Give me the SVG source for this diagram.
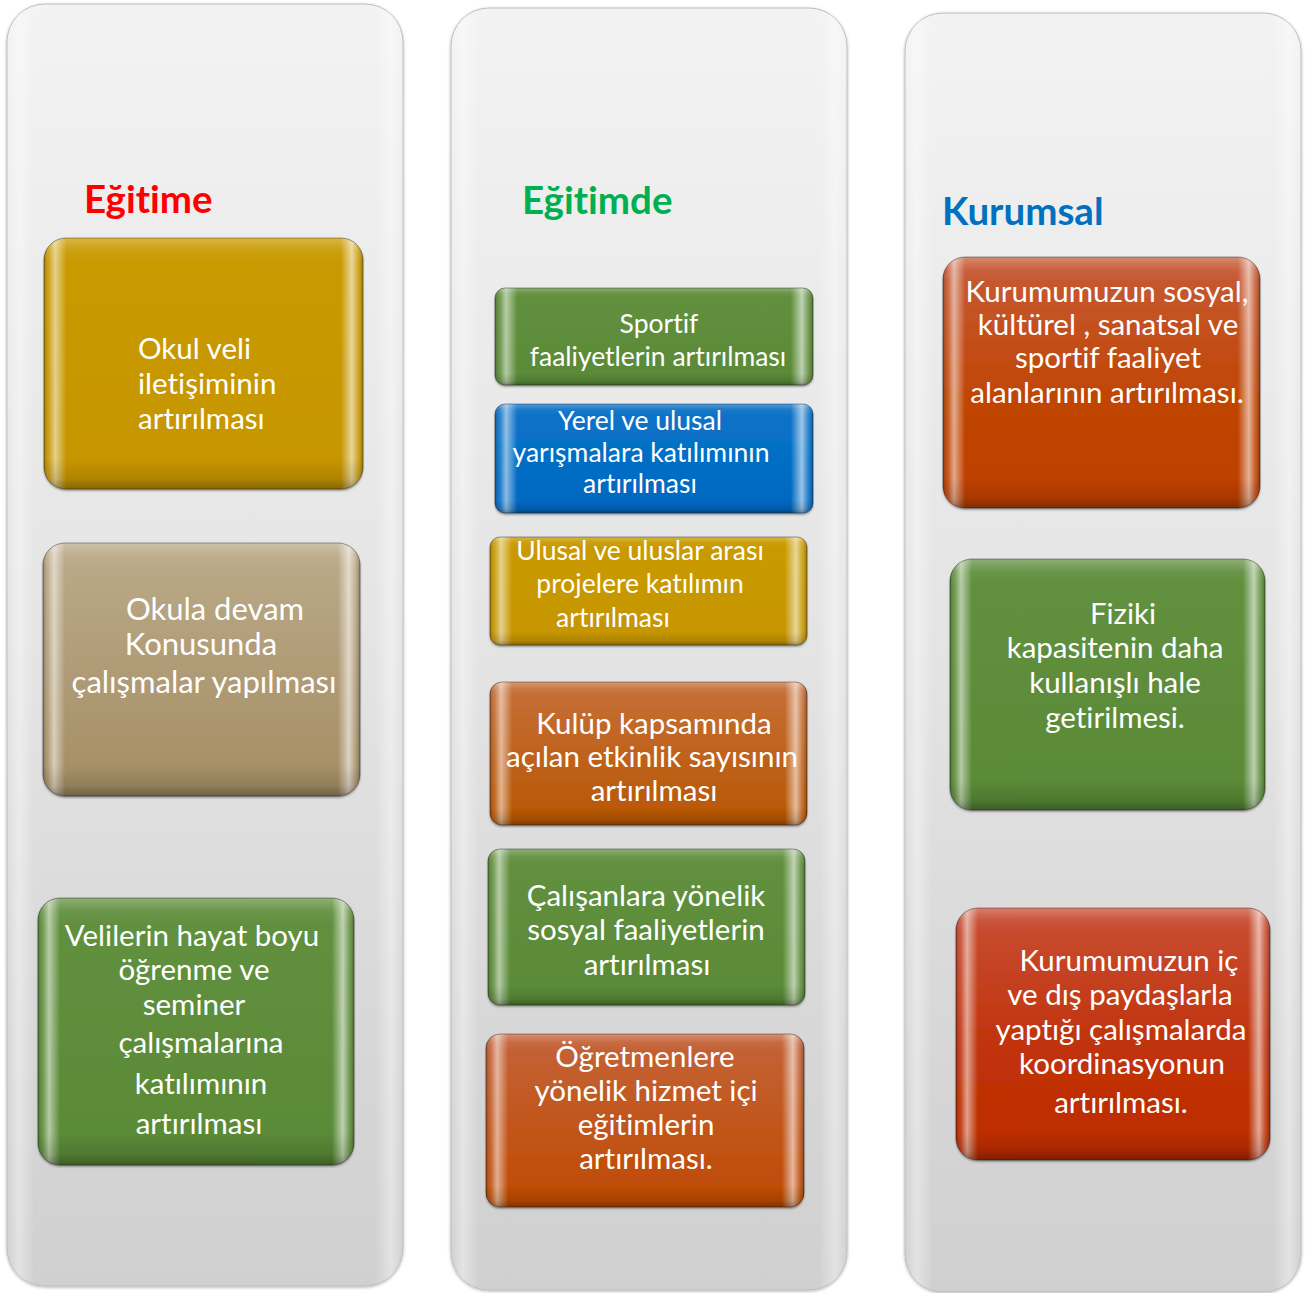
<svg xmlns="http://www.w3.org/2000/svg" width="1305" height="1293" viewBox="0 0 1305 1293">
  <defs>
    <!-- tall gray column background -->
    <linearGradient id="panelFill" x1="0" y1="0" x2="0" y2="1">
      <stop offset="0" stop-color="#f3f3f3"/>
      <stop offset="0.15" stop-color="#eeeeee"/>
      <stop offset="0.5" stop-color="#e4e4e4"/>
      <stop offset="0.85" stop-color="#d5d5d5"/>
      <stop offset="1" stop-color="#d0d0d0"/>
    </linearGradient>
    <linearGradient id="panelEdge" x1="0" y1="0" x2="1" y2="0">
      <stop offset="0" stop-color="#ffffff" stop-opacity="0.0"/>
      <stop offset="0.03" stop-color="#ffffff" stop-opacity="0.4"/>
      <stop offset="0.07" stop-color="#ffffff" stop-opacity="0"/>
      <stop offset="0.93" stop-color="#ffffff" stop-opacity="0"/>
      <stop offset="0.97" stop-color="#ffffff" stop-opacity="0.4"/>
      <stop offset="1" stop-color="#ffffff" stop-opacity="0"/>
    </linearGradient>

    <!-- box body colours -->
    <linearGradient id="gGold" x1="0" y1="0" x2="0" y2="1">
      <stop offset="0" stop-color="#c99a04"/>
      <stop offset="1" stop-color="#c69500"/>
    </linearGradient>
    <linearGradient id="gTan" x1="0" y1="0" x2="0" y2="1">
      <stop offset="0" stop-color="#bcaa89"/>
      <stop offset="1" stop-color="#a38d63"/>
    </linearGradient>
    <linearGradient id="gGreen" x1="0" y1="0" x2="0" y2="1">
      <stop offset="0" stop-color="#62903f"/>
      <stop offset="1" stop-color="#598a36"/>
    </linearGradient>
    <linearGradient id="gBlue" x1="0" y1="0" x2="0" y2="1">
      <stop offset="0" stop-color="#0a74c8"/>
      <stop offset="1" stop-color="#0068c2"/>
    </linearGradient>
    <linearGradient id="gOrange" x1="0" y1="0" x2="0" y2="1">
      <stop offset="0" stop-color="#c6703a"/>
      <stop offset="1" stop-color="#b85600"/>
    </linearGradient>
    <linearGradient id="gOrange2" x1="0" y1="0" x2="0" y2="1">
      <stop offset="0" stop-color="#c46339"/>
      <stop offset="1" stop-color="#bf4a00"/>
    </linearGradient>
    <linearGradient id="gRust" x1="0" y1="0" x2="0" y2="1">
      <stop offset="0" stop-color="#c75b38"/>
      <stop offset="0.6" stop-color="#c04400"/>
      <stop offset="1" stop-color="#bf4000"/>
    </linearGradient>
    <linearGradient id="gRed" x1="0" y1="0" x2="0" y2="1">
      <stop offset="0" stop-color="#c84e34"/>
      <stop offset="0.6" stop-color="#c03108"/>
      <stop offset="1" stop-color="#be2c00"/>
    </linearGradient>

    <!-- bevel light on the left / right rims -->
    <linearGradient id="rimX" x1="0" y1="0" x2="1" y2="0">
      <stop offset="0" stop-color="#000000" stop-opacity="0.22"/>
      <stop offset="0.015" stop-color="#ffffff" stop-opacity="0.1"/>
      <stop offset="0.035" stop-color="#ffffff" stop-opacity="0.55"/>
      <stop offset="0.07" stop-color="#ffffff" stop-opacity="0"/>
      <stop offset="0.93" stop-color="#ffffff" stop-opacity="0"/>
      <stop offset="0.965" stop-color="#ffffff" stop-opacity="0.6"/>
      <stop offset="0.985" stop-color="#ffffff" stop-opacity="0.15"/>
      <stop offset="1" stop-color="#000000" stop-opacity="0.22"/>
    </linearGradient>
    <!-- bevel top light and bottom shade -->
    <linearGradient id="rimY" x1="0" y1="0" x2="0" y2="1">
      <stop offset="0" stop-color="#ffffff" stop-opacity="0.28"/>
      <stop offset="0.05" stop-color="#ffffff" stop-opacity="0.06"/>
      <stop offset="0.1" stop-color="#ffffff" stop-opacity="0"/>
      <stop offset="0.88" stop-color="#000000" stop-opacity="0"/>
      <stop offset="0.96" stop-color="#000000" stop-opacity="0.12"/>
      <stop offset="1" stop-color="#000000" stop-opacity="0.32"/>
    </linearGradient>

    <filter id="boxShadow" x="-5%" y="-5%" width="110%" height="112%">
      <feDropShadow dx="0" dy="1.5" stdDeviation="1.2" flood-color="#000000" flood-opacity="0.45"/>
    </filter>
    <filter id="panelShadow" x="-3%" y="-2%" width="106%" height="104%">
      <feDropShadow dx="0" dy="1" stdDeviation="1.5" flood-color="#000000" flood-opacity="0.3"/>
    </filter>

    <style>
      .panel { fill: url(#panelFill); stroke: #bdbdbd; stroke-width: 1; }
      .panelRim { fill: url(#panelEdge); }
      .rimX { fill: url(#rimX); }
      .rimY { fill: url(#rimY); }
      .edge { fill: none; stroke: #000000; stroke-opacity: 0.35; stroke-width: 1; }
      text { font-variant-ligatures: none; font-feature-settings: "liga" 0, "clig" 0; }
      .head { font-family: Lato, "Liberation Sans", sans-serif; font-weight: 700; font-size: 38.5px; }
      .lbl { font-family: Lato, "Liberation Sans", sans-serif; fill: #ffffff; font-size: 29.5px; text-anchor: middle; }
      .sm { font-size: 26.5px; }
      .lg { font-size: 31px; }
    </style>
  </defs>

  <rect width="1305" height="1293" fill="#ffffff"/>

  <!-- three column backgrounds -->
  <g id="columns">
    <g id="column-egitime" filter="url(#panelShadow)">
      <rect class="panel" x="7" y="4" width="396" height="1282" rx="38"/>
      <rect class="panelRim" x="7" y="4" width="396" height="1282" rx="38"/>
    </g>
    <g id="column-egitimde" filter="url(#panelShadow)">
      <rect class="panel" x="451" y="8" width="396" height="1282" rx="38"/>
      <rect class="panelRim" x="451" y="8" width="396" height="1282" rx="38"/>
    </g>
    <g id="column-kurumsal" filter="url(#panelShadow)">
      <rect class="panel" x="905" y="13" width="396" height="1279" rx="38"/>
      <rect class="panelRim" x="905" y="13" width="396" height="1279" rx="38"/>
    </g>
  </g>

  <!-- column titles -->
  <g id="titles">
    <text id="title-egitime" class="head" x="84" y="213" fill="#ff0000">Eğitime</text>
    <text id="title-egitimde" class="head" x="522" y="214" fill="#00b050">Eğitimde</text>
    <text id="title-kurumsal" class="head" x="942" y="225" fill="#0070c0">Kurumsal</text>
  </g>

  <!-- no connectors in this layout -->
  <g id="connectors"/>

  <!-- first column -->
  <g id="box-okul-veli">
    <rect x="44" y="238" width="319" height="251" rx="22" fill="url(#gGold)" filter="url(#boxShadow)"/>
    <rect class="rimX" x="44" y="238" width="319" height="251" rx="22"/>
    <rect class="rimY" x="44" y="238" width="319" height="251" rx="22"/>
    <rect class="edge" x="44" y="238" width="319" height="251" rx="22"/>
    <text class="lbl" style="text-anchor:start" x="138" y="359">Okul veli</text>
    <text class="lbl" style="text-anchor:start" x="138" y="394">iletişiminin</text>
    <text class="lbl" style="text-anchor:start" x="138" y="429">artırılması</text>
  </g>

  <g id="box-okula-devam">
    <rect x="43" y="543" width="317" height="253" rx="22" fill="url(#gTan)" filter="url(#boxShadow)"/>
    <rect class="rimX" x="43" y="543" width="317" height="253" rx="22"/>
    <rect class="rimY" x="43" y="543" width="317" height="253" rx="22"/>
    <rect class="edge" x="43" y="543" width="317" height="253" rx="22"/>
    <text class="lbl lg" x="215" y="620">Okula devam</text>
    <text class="lbl lg" x="201" y="655">Konusunda</text>
    <text class="lbl lg" x="204" y="693">çalışmalar yapılması</text>
  </g>

  <g id="box-veliler">
    <rect x="38" y="898" width="316" height="267" rx="22" fill="url(#gGreen)" filter="url(#boxShadow)"/>
    <rect class="rimX" x="38" y="898" width="316" height="267" rx="22"/>
    <rect class="rimY" x="38" y="898" width="316" height="267" rx="22"/>
    <rect class="edge" x="38" y="898" width="316" height="267" rx="22"/>
    <text class="lbl" x="192" y="946">Velilerin hayat boyu</text>
    <text class="lbl" x="194" y="980">öğrenme ve</text>
    <text class="lbl" x="194" y="1015">seminer</text>
    <text class="lbl" x="201" y="1053">çalışmalarına</text>
    <text class="lbl" x="201" y="1094">katılımının</text>
    <text class="lbl" x="199" y="1134">artırılması</text>
  </g>

  <!-- second column -->
  <g id="box-sportif">
    <rect x="495" y="288" width="318" height="97" rx="10" fill="url(#gGreen)" filter="url(#boxShadow)"/>
    <rect class="rimX" x="495" y="288" width="318" height="97" rx="10"/>
    <rect class="rimY" x="495" y="288" width="318" height="97" rx="10"/>
    <rect class="edge" x="495" y="288" width="318" height="97" rx="10"/>
    <text class="lbl sm" x="659" y="333">Sportif</text>
    <text class="lbl sm" x="658" y="366">faaliyetlerin artırılması</text>
  </g>

  <g id="box-yarismalar">
    <rect x="495" y="404" width="318" height="109" rx="10" fill="url(#gBlue)" filter="url(#boxShadow)"/>
    <rect class="rimX" x="495" y="404" width="318" height="109" rx="10"/>
    <rect class="rimY" x="495" y="404" width="318" height="109" rx="10"/>
    <rect class="edge" x="495" y="404" width="318" height="109" rx="10"/>
    <text class="lbl sm" x="640" y="430">Yerel ve ulusal</text>
    <text class="lbl sm" x="641" y="462">yarışmalara katılımının</text>
    <text class="lbl sm" x="640" y="493">artırılması</text>
  </g>

  <g id="box-projeler">
    <rect x="490" y="537" width="317" height="108" rx="10" fill="url(#gGold)" filter="url(#boxShadow)"/>
    <rect class="rimX" x="490" y="537" width="317" height="108" rx="10"/>
    <rect class="rimY" x="490" y="537" width="317" height="108" rx="10"/>
    <rect class="edge" x="490" y="537" width="317" height="108" rx="10"/>
    <text class="lbl sm" x="640" y="560">Ulusal ve uluslar arası</text>
    <text class="lbl sm" x="640" y="593">projelere katılımın</text>
    <text class="lbl sm" x="613" y="627">artırılması</text>
  </g>

  <g id="box-kulup">
    <rect x="490" y="682" width="317" height="143" rx="12" fill="url(#gOrange)" filter="url(#boxShadow)"/>
    <rect class="rimX" x="490" y="682" width="317" height="143" rx="12"/>
    <rect class="rimY" x="490" y="682" width="317" height="143" rx="12"/>
    <rect class="edge" x="490" y="682" width="317" height="143" rx="12"/>
    <text class="lbl" x="654" y="734">Kulüp kapsamında</text>
    <text class="lbl" x="652" y="767">açılan etkinlik sayısının</text>
    <text class="lbl" x="654" y="801">artırılması</text>
  </g>

  <g id="box-calisanlar">
    <rect x="488" y="849" width="317" height="156" rx="12" fill="url(#gGreen)" filter="url(#boxShadow)"/>
    <rect class="rimX" x="488" y="849" width="317" height="156" rx="12"/>
    <rect class="rimY" x="488" y="849" width="317" height="156" rx="12"/>
    <rect class="edge" x="488" y="849" width="317" height="156" rx="12"/>
    <text class="lbl" x="646" y="906">Çalışanlara yönelik</text>
    <text class="lbl" x="646" y="940">sosyal faaliyetlerin</text>
    <text class="lbl" x="647" y="975">artırılması</text>
  </g>

  <g id="box-ogretmenler">
    <rect x="486" y="1034" width="318" height="173" rx="14" fill="url(#gOrange2)" filter="url(#boxShadow)"/>
    <rect class="rimX" x="486" y="1034" width="318" height="173" rx="14"/>
    <rect class="rimY" x="486" y="1034" width="318" height="173" rx="14"/>
    <rect class="edge" x="486" y="1034" width="318" height="173" rx="14"/>
    <text class="lbl" x="645" y="1067">Öğretmenlere</text>
    <text class="lbl" x="646" y="1101">yönelik hizmet içi</text>
    <text class="lbl" x="646" y="1135">eğitimlerin</text>
    <text class="lbl" x="646" y="1169">artırılması.</text>
  </g>

  <!-- third column -->
  <g id="box-faaliyet-alanlari">
    <rect x="943" y="257" width="317" height="251" rx="22" fill="url(#gRust)" filter="url(#boxShadow)"/>
    <rect class="rimX" x="943" y="257" width="317" height="251" rx="22"/>
    <rect class="rimY" x="943" y="257" width="317" height="251" rx="22"/>
    <rect class="edge" x="943" y="257" width="317" height="251" rx="22"/>
    <text class="lbl" x="1107" y="302">Kurumumuzun sosyal,</text>
    <text class="lbl" x="1108" y="335">kültürel , sanatsal ve</text>
    <text class="lbl" x="1108" y="368">sportif faaliyet</text>
    <text class="lbl" x="1107" y="403">alanlarının artırılması.</text>
  </g>

  <g id="box-fiziki">
    <rect x="950" y="559" width="315" height="251" rx="22" fill="url(#gGreen)" filter="url(#boxShadow)"/>
    <rect class="rimX" x="950" y="559" width="315" height="251" rx="22"/>
    <rect class="rimY" x="950" y="559" width="315" height="251" rx="22"/>
    <rect class="edge" x="950" y="559" width="315" height="251" rx="22"/>
    <text class="lbl" x="1123" y="624">Fiziki</text>
    <text class="lbl" x="1115" y="658">kapasitenin daha</text>
    <text class="lbl" x="1115" y="693">kullanışlı hale</text>
    <text class="lbl" x="1115" y="728">getirilmesi.</text>
  </g>

  <g id="box-koordinasyon">
    <rect x="956" y="908" width="314" height="252" rx="22" fill="url(#gRed)" filter="url(#boxShadow)"/>
    <rect class="rimX" x="956" y="908" width="314" height="252" rx="22"/>
    <rect class="rimY" x="956" y="908" width="314" height="252" rx="22"/>
    <rect class="edge" x="956" y="908" width="314" height="252" rx="22"/>
    <text class="lbl" x="1129" y="971">Kurumumuzun iç</text>
    <text class="lbl" x="1120" y="1005">ve dış paydaşlarla</text>
    <text class="lbl" x="1121" y="1040">yaptığı çalışmalarda</text>
    <text class="lbl" x="1122" y="1074">koordinasyonun</text>
    <text class="lbl" x="1121" y="1113">artırılması.</text>
  </g>
</svg>
